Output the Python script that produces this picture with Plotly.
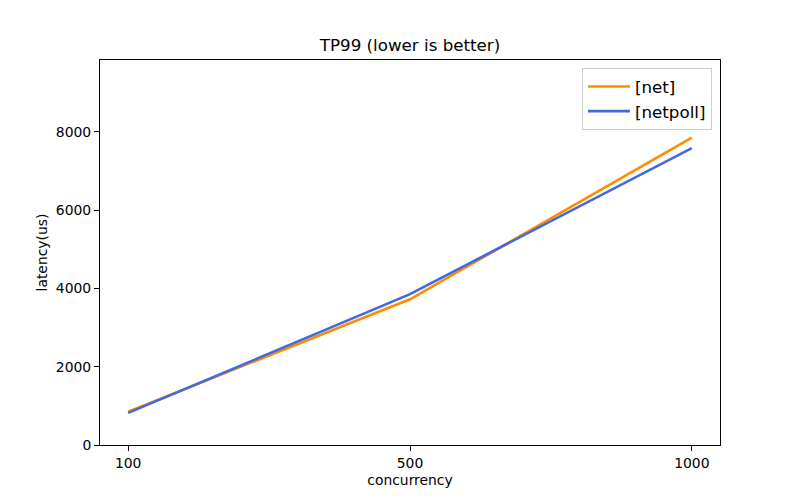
import plotly.graph_objects as go

categories = ["100", "500", "1000"]
net_values = [850, 3725, 7855]
netpoll_values = [820, 3855, 7590]
y_ticks = [0, 2000, 4000, 6000, 8000]

FONT = "DejaVu Sans"
xpos = list(range(len(categories)))

fig = go.Figure()
fig.add_trace(go.Scatter(x=xpos, y=net_values, mode="lines", name="[net]",
                         line=dict(color="#FF8C00", width=2.6)))
fig.add_trace(go.Scatter(x=xpos, y=netpoll_values, mode="lines", name="[netpoll]",
                         line=dict(color="#4169E1", width=2.6)))

axis_common = dict(showline=True, linecolor="black", linewidth=1, mirror=True,
                   ticks="outside", ticklen=5, tickcolor="black", showgrid=False,
                   zeroline=False, tickfont=dict(family=FONT, size=13.9, color="black"))

fig.update_layout(
    width=800, height=500,
    paper_bgcolor="white", plot_bgcolor="white",
    margin=dict(l=92, r=88, t=52, b=63),
    title=dict(text="TP99 (lower is better)", x=0.5025, xanchor="center", y=0.926, yanchor="middle",
               font=dict(family=FONT, size=16.7, color="black")),
    xaxis=dict(range=[-0.1, 2.1], tickvals=xpos, ticktext=categories,
               title=dict(text="concurrency", font=dict(family=FONT, size=13.9, color="black"), standoff=5),
               **axis_common),
    yaxis=dict(range=[0, 9840], tickvals=y_ticks, ticktext=[str(v) for v in y_ticks],
               title=dict(text="latency(us)", font=dict(family=FONT, size=13.9, color="black"), standoff=4),
               **axis_common),
    legend=dict(x=0.987, xanchor="right", y=0.979, yanchor="top",
                bgcolor="white", bordercolor="#cccccc", borderwidth=1, itemwidth=42,
                font=dict(family=FONT, size=16.7, color="black")),
    showlegend=True,
)

fig.write_html("out.html")
